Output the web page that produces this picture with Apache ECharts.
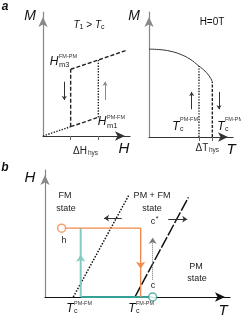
<!DOCTYPE html>
<html><head><meta charset="utf-8">
<script src="https://cdn.jsdelivr.net/npm/echarts@6/dist/echarts.min.js"></script>
<style>html,body{margin:0;padding:0;background:#fff}#c{width:241px;height:317px}</style>
</head><body><div id="c"></div>
<script>
// ---- Panel a (left): M vs H hysteresis loop (arbitrary units 0..10)
const hysField = [0, 3.18, 6.36, 9.69];
const hysLower = [0, 0.75, 1.51];          // lower branch M at H = 0, 3.18, 6.36
const hysUpper = [5.38, 6.13, 6.94];       // upper branch M at H = 3.18, 6.36, 9.69
const hysTicks = [3.18, 6.36];
const hysArrowDown = [[2.45, 4.38], [2.45, 2.90]];
const hysArrowUp = [[7.13, 2.90], [7.13, 4.38]];

// ---- Panel a (right): M(T) at H = 0
const mtT = [0, 1.31, 2.5, 3.69, 4.88, 5.95, 6.67, 7.26, 7.54];
const mtM = [7.03, 6.99, 6.87, 6.63, 6.23, 5.67, 5.27, 4.79, 4.41];
const mtTicks = [5.95, 7.54];
const mtArrowUp = [[5.08, 2.22], [5.08, 3.61]];
const mtArrowDown = [[8.33, 3.61], [8.33, 2.22]];

// ---- Panel b: H-T phase diagram
const boundaryPMFM = [[1.53, 0], [4.54, 8.04]];   // dotted
const boundaryFMPM = [[4.86, 0], [7.75, 7.84]];   // dashed
const pathH = [[0.90, 5.42], [5.17, 5.42], [5.17, 0]];
const pathHArrowAt = 2.22;
const pathC = [[5.82, 0], [1.93, 0], [1.93, 5.42]];
const pathCArrowAt = 3.32;
const pointH = [0.90, 5.42];
const pointC = [5.82, 0];
const cStarArrow = [[5.82, 1.36], [5.82, 4.66]];
const leftArrow = [[4.15, 6.21], [3.19, 6.21]];
const rightArrow = [[6.66, 6.13], [7.69, 6.13]];

const FONT = "'Liberation Sans', Arial, sans-serif";
const ORANGE = '#f08a4e', TEAL_L = '#86cbc3', TEAL_D = '#35a096';

function axisX(gi, yColor, ticks) {
  return {
    type: 'value', gridIndex: gi, min: 0, max: 10,
    axisLine: { show: true, onZero: false, symbol: ['none', 'arrow'], symbolSize: [7, 10], symbolOffset: [0, -5],
      lineStyle: { color: yColor, width: 1.2 } },
    axisTick: ticks ? { show: true, customValues: ticks, inside: false, length: 4, lineStyle: { color: '#666' } } : { show: false },
    axisLabel: { show: false }, splitLine: { show: false }
  };
}
function axisY(gi, color) {
  return {
    type: 'value', gridIndex: gi, min: 0, max: 10,
    axisLine: { show: true, onZero: false, symbol: ['none', 'arrow'], symbolSize: [7, 10], symbolOffset: [0, -5],
      lineStyle: { color: color, width: 1.2 } },
    axisTick: { show: false }, axisLabel: { show: false }, splitLine: { show: false }
  };
}
function seg(gi, pts, color, type, width) {
  return { type: 'line', xAxisIndex: gi, yAxisIndex: gi, data: pts, showSymbol: false, symbol: 'none',
    lineStyle: { color: color, type: type, width: width }, silent: true, animation: false, clip: false, z: 3 };
}
function arrows(gi, list, color, type, width, size) {
  return { type: 'lines', coordinateSystem: 'cartesian2d', xAxisIndex: gi, yAxisIndex: gi,
    symbol: ['none', 'arrow'], symbolSize: size || 5,
    data: list.map(c => ({ coords: c })),
    lineStyle: { color: color, type: type || 'solid', width: width || 1, opacity: 1 }, silent: true, animation: false, z: 4 };
}
function txt(x, y, text, size, opts) {
  opts = opts || {};
  return { type: 'text', x: x, y: y, silent: true, z: 10,
    style: Object.assign({ text: text, fontFamily: FONT, fontSize: size, fill: opts.fill || '#111',
      fontStyle: opts.italic ? 'italic' : 'normal', fontWeight: opts.bold ? 'bold' : 'normal',
      align: opts.align || 'center', verticalAlign: 'middle', textAlign: opts.align || 'center', textVerticalAlign: 'middle' },
      opts.rich ? { rich: opts.rich } : {}) };
}
const richTc = {
  i: { fontFamily: FONT, fontSize: 12, fontStyle: 'italic', fill: '#111', verticalAlign: 'bottom' },
  s: { fontFamily: FONT, fontSize: 7, fill: '#333', padding: [0, 0, 0, 0] }
};

const chart = echarts.init(document.getElementById('c'), null, { renderer: 'canvas' });

const series = [];
// Panel a left
series.push(seg(0, [[hysField[0], hysLower[0]], [hysField[1], hysLower[1]]], '#222', 'dotted', 1.4));
series.push(seg(0, [[hysField[1], hysLower[1]], [hysField[2], hysLower[2]]], '#222', [4, 2], 1.4));
series.push(seg(0, [[hysField[1], hysLower[1]], [hysField[1], hysUpper[0]]], '#222', [4, 2], 1.4));
series.push(seg(0, [[hysField[2], hysLower[2]], [hysField[2], hysUpper[1]]], '#222', 'dotted', 1.4));
series.push(seg(0, [[hysField[1], hysUpper[0]], [hysField[2], hysUpper[1]], [hysField[3], hysUpper[2]]], '#222', [4, 2], 1.4));
series.push(arrows(0, [hysArrowDown], '#333', 'solid', 1, 4));
series.push(arrows(0, [hysArrowUp], '#888', 'solid', 1, 4));
// Panel a right
series.push(Object.assign(seg(1, mtT.map((t, i) => [t, mtM[i]]), '#333', 'solid', 1), { smooth: 0.4 }));
series.push(seg(1, [[mtT[5], 0], [mtT[5], mtM[5]]], '#222', 'dotted', 1.4));
series.push(seg(1, [[mtT[8], 0], [mtT[8], mtM[8]]], '#222', [3, 1.5], 1.4));
series.push(arrows(1, [mtArrowUp], '#333', 'solid', 1, 4));
series.push(arrows(1, [mtArrowDown], '#333', 'solid', 1, 4));
// Panel b
series.push(seg(2, boundaryPMFM, '#111', 'dotted', 1.5));
series.push(seg(2, boundaryFMPM, '#111', [12, 2], 1.5));
series.push(seg(2, [pathC[0], pathC[1]], TEAL_D, 'solid', 2));
series.push(seg(2, [pathC[1], pathC[2]], TEAL_L, 'solid', 2));
series.push(arrows(2, [[pathC[1], [pathC[1][0], pathCArrowAt]]], TEAL_L, 'solid', 0.1, 7));
series.push(seg(2, pathH, ORANGE, 'solid', 1.3));
series.push(arrows(2, [[pathH[1], [pathH[1][0], pathHArrowAt]]], ORANGE, 'solid', 0.1, 7));
series.push(arrows(2, [cStarArrow], '#777', 'dotted', 1, 6));
series.push(arrows(2, [leftArrow, rightArrow], '#333', 'solid', 1, 5));
series.push({ type: 'scatter', xAxisIndex: 2, yAxisIndex: 2, data: [pointH], symbol: 'circle', symbolSize: 8,
  itemStyle: { color: '#fff', borderColor: ORANGE, borderWidth: 1.5 }, z: 6, silent: true, animation: false });
series.push({ type: 'scatter', xAxisIndex: 2, yAxisIndex: 2, data: [pointC], symbol: 'circle', symbolSize: 8,
  itemStyle: { color: '#fff', borderColor: TEAL_D, borderWidth: 1.5 }, z: 6, silent: true, animation: false });

const graphics = [
  txt(5, 7, 'a', 12, { italic: true, bold: true }),
  txt(5, 168, 'b', 12, { italic: true, bold: true }),
  // panel a left
  txt(30, 16, 'M', 14, { italic: true }),
  txt(89, 25, '{i|T}{s|1} > {i|T}{s|c}', 10, { rich: {
    i: { fontFamily: FONT, fontSize: 10, fontStyle: 'italic', fill: '#111' },
    s: { fontFamily: FONT, fontSize: 7, fill: '#111', padding: [5, 0, 0, 0] } } }),
  txt(54, 62, 'H', 12, { italic: true }),
  txt(59, 56, 'FM-PM', 5.5, { align: 'left', fill: '#333' }),
  txt(59, 65, 'm3', 7.5, { align: 'left', fill: '#222' }),
  txt(102, 122, 'H', 12, { italic: true }),
  txt(107, 117, 'PM-FM', 5.5, { align: 'left', fill: '#333' }),
  txt(107, 126, 'm1', 7.5, { align: 'left', fill: '#222' }),
  txt(80, 151, 'ΔH', 10, { fill: '#222' }),
  txt(88, 153, 'hys', 6.5, { align: 'left', fill: '#333' }),
  txt(124, 149, 'H', 15, { italic: true }),
  // panel a right
  txt(134, 16, 'M', 14, { italic: true }),
  txt(212, 22, 'H=0T', 10, { fill: '#111' }),
  txt(176, 127, 'T', 12, { italic: true }),
  txt(180, 129, 'c', 7, { align: 'left', fill: '#222' }),
  txt(180, 119, 'PM-FM', 5.5, { align: 'left', fill: '#333' }),
  txt(221, 127, 'T', 12, { italic: true }),
  txt(225, 129, 'c', 7, { align: 'left', fill: '#222' }),
  txt(225, 119, 'FM-PM', 5.5, { align: 'left', fill: '#333' }),
  txt(202, 148, 'ΔT', 10, { fill: '#222' }),
  txt(209, 150, 'hys', 6.5, { align: 'left', fill: '#333' }),
  txt(231, 150, 'T', 15, { italic: true }),
  // panel b
  txt(30, 178, 'H', 15, { italic: true }),
  txt(65, 196, 'FM', 9, { fill: '#222' }),
  txt(66, 209, 'state', 9, { fill: '#222' }),
  txt(64, 241, 'h', 9, { fill: '#222' }),
  txt(152, 196, 'PM + FM', 9, { fill: '#222' }),
  txt(152, 209, 'state', 9, { fill: '#222' }),
  txt(153, 222, 'c', 9, { fill: '#222' }),
  txt(157, 219, '*', 7, { fill: '#222' }),
  txt(153, 286, 'c', 9, { fill: '#222' }),
  txt(196, 267, 'PM', 9, { fill: '#222' }),
  txt(197, 279, 'state', 9, { fill: '#222' }),
  txt(70, 309, 'T', 12, { italic: true }),
  txt(74, 311, 'c', 7, { align: 'left', fill: '#222' }),
  txt(74, 303, 'PM-FM', 5.5, { align: 'left', fill: '#333' }),
  txt(132, 309, 'T', 12, { italic: true }),
  txt(136, 311, 'c', 7, { align: 'left', fill: '#222' }),
  txt(136, 303, 'FM-PM', 5.5, { align: 'left', fill: '#333' }),
  txt(223, 311, 'T', 15, { italic: true })
];

chart.setOption({
  animation: false,
  grid: [
    { left: 43, top: 12, width: 87, height: 124 },
    { left: 149, top: 12, width: 84, height: 125 },
    { left: 45, top: 170, width: 185, height: 127 }
  ],
  xAxis: [axisX(0, '#333', hysTicks), axisX(1, '#333', mtTicks), axisX(2, '#111', null)],
  yAxis: [axisY(0, '#888'), axisY(1, '#888'), axisY(2, '#888')],
  series: series,
  graphic: graphics
});
</script></body></html>
